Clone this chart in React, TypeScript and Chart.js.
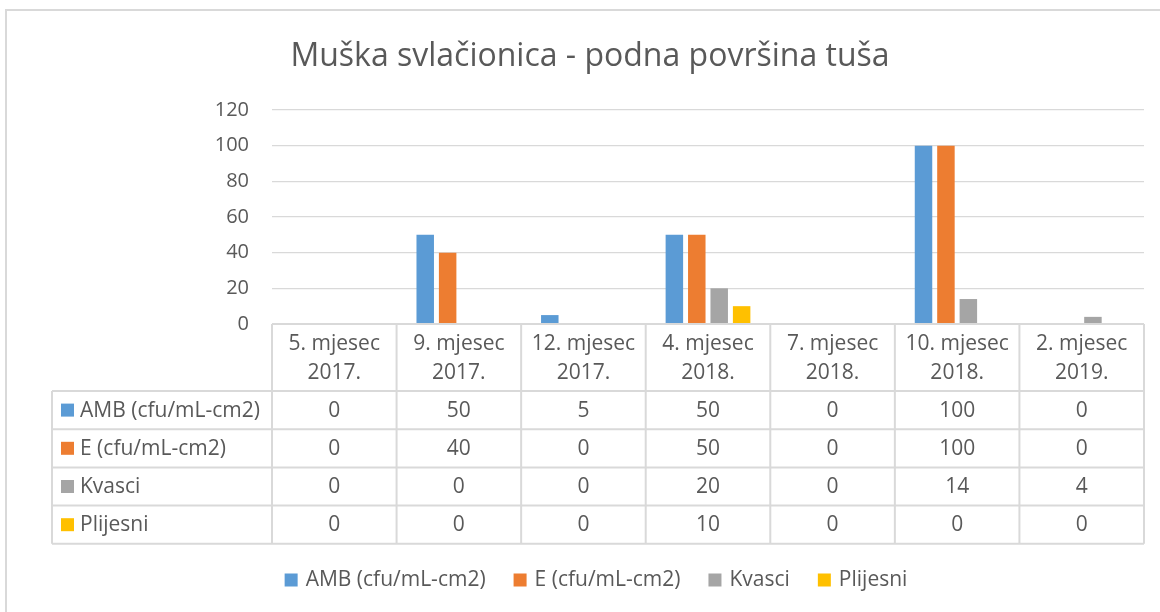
import React, { useEffect, useRef } from "react";
import { Chart, registerables } from "chart.js";

Chart.register(...registerables);

const TITLE = "Muška svlačionica - podna površina tuša";
const categoryLine1 = ["5. mjesec", "9. mjesec", "12. mjesec", "4. mjesec", "7. mjesec", "10. mjesec", "2. mjesec"];
const categoryLine2 = ["2017.", "2017.", "2017.", "2018.", "2018.", "2018.", "2019."];
const seriesNames = ["AMB (cfu/mL-cm2)", "E (cfu/mL-cm2)", "Kvasci", "Plijesni"];
const ambValues = [0, 50, 5, 50, 0, 100, 0];
const eValues = [0, 40, 0, 50, 0, 100, 0];
const kvasciValues = [0, 0, 0, 20, 0, 14, 4];
const plijesniValues = [0, 0, 0, 10, 0, 0, 0];
const seriesColors = ["#5B9BD5", "#ED7D31", "#A5A5A5", "#FFC000"];
const yMin = 0;
const yMax = 120;
const yStep = 20;

const FONT = '"Open Sans", "DejaVu Sans", sans-serif';
const TEXT = "#595959";
const LINE = "#D9D9D9";

const decorPlugin = {
  id: "decor",
  beforeDraw(chart: any) {
    const ctx = chart.ctx;
    ctx.save();
    ctx.fillStyle = "#ffffff";
    ctx.fillRect(0, 0, chart.width, chart.height);
    ctx.strokeStyle = LINE;
    ctx.lineWidth = 2;
    ctx.strokeRect(6, 10, chart.width + 40, chart.height + 40);
    ctx.restore();
  },
  afterDraw(chart: any) {
    const ctx = chart.ctx;
    const area = chart.chartArea;
    const n = chart.data.labels.length;
    const colW = (area.right - area.left) / n;
    const top = area.bottom;
    const headerH = 67;
    const rowH = 38.2;
    const labelLeft = 52;
    const datasets = chart.data.datasets;
    const rowsBottom = top + headerH + rowH * datasets.length;

    ctx.save();
    ctx.strokeStyle = LINE;
    ctx.lineWidth = 2;
    ctx.beginPath();
    ctx.moveTo(area.left, top);
    ctx.lineTo(area.right, top);
    for (let r = 0; r <= datasets.length; r++) {
      const y = top + headerH + r * rowH;
      ctx.moveTo(labelLeft, y);
      ctx.lineTo(area.right, y);
    }
    for (let i = 0; i <= n; i++) {
      const x = area.left + i * colW;
      ctx.moveTo(x, top);
      ctx.lineTo(x, rowsBottom);
    }
    ctx.moveTo(labelLeft, top + headerH);
    ctx.lineTo(labelLeft, rowsBottom);
    ctx.stroke();

    ctx.fillStyle = TEXT;
    ctx.font = `21px ${FONT}`;
    ctx.textAlign = "center";
    ctx.textBaseline = "middle";
    const xs = chart.scales.x;
    for (let i = 0; i < n; i++) {
      const cx = xs.getPixelForValue(i);
      const lab = chart.data.labels[i];
      ctx.fillText(lab[0], cx, top + 20);
      ctx.fillText(lab[1], cx, top + 49);
      datasets.forEach((ds: any, r: number) => {
        ctx.fillText(String(ds.data[i]), cx, top + headerH + r * rowH + rowH / 2 + 0.5);
      });
    }
    ctx.textAlign = "left";
    datasets.forEach((ds: any, r: number) => {
      const cy = top + headerH + r * rowH + rowH / 2;
      ctx.fillStyle = ds.backgroundColor;
      ctx.fillRect(61, cy - 6.5, 13, 13);
      ctx.fillStyle = TEXT;
      ctx.fillText(ds.label, 80, cy + 0.5);
    });

    // legend
    ctx.font = `21px ${FONT}`;
    const box = 13;
    const gapBox = 8;
    const gapItem = 28;
    const widths = datasets.map((ds: any) => ctx.measureText(ds.label).width);
    const total = widths.reduce((a: number, w: number) => a + box + gapBox + w, 0) + gapItem * (datasets.length - 1);
    let lx = 596 - total / 2;
    const ly = 580;
    datasets.forEach((ds: any, r: number) => {
      ctx.fillStyle = ds.backgroundColor;
      ctx.fillRect(lx, ly - box / 2, box, box);
      lx += box + gapBox;
      ctx.fillStyle = TEXT;
      ctx.fillText(ds.label, lx, ly + 0.5);
      lx += widths[r] + gapItem;
    });
    ctx.restore();
  },
};

export default function App() {
  const canvasRef = useRef<HTMLCanvasElement | null>(null);

  useEffect(() => {
    let chart: Chart | null = null;
    let cancelled = false;
    const build = () => {
      if (cancelled || !canvasRef.current) return;
      const values = [ambValues, eValues, kvasciValues, plijesniValues];
      chart = new Chart(canvasRef.current, {
        type: "bar",
        data: {
          labels: categoryLine1.map((l, i) => [l, categoryLine2[i]]),
          datasets: seriesNames.map((name, i) => ({
            label: name,
            data: values[i],
            backgroundColor: seriesColors[i],
            borderWidth: 0,
            categoryPercentage: 0.72,
            barPercentage: 0.78,
          })),
        },
        options: {
          responsive: false,
          animation: false,
          layout: { padding: { left: 36, right: 16, top: 0, bottom: 288 } },
          plugins: {
            legend: { display: false },
            tooltip: { enabled: false },
            title: {
              display: true,
              text: TITLE,
              color: TEXT,
              font: { family: FONT, size: 32, weight: "normal", lineHeight: 1.2 },
              padding: { top: 38, bottom: 33.6 },
            },
          },
          scales: {
            x: { display: false },
            y: {
              min: yMin,
              max: yMax,
              ticks: { stepSize: yStep, color: TEXT, font: { family: FONT, size: 20 }, padding: 23 },
              grid: { color: LINE, lineWidth: 1.3, drawTicks: false },
              border: { display: false },
              afterFit: (scale: any) => {
                scale.width = 236;
              },
            },
          },
        },
        plugins: [decorPlugin],
      });
    };
    const fontsApi: any = (document as any).fonts;
    if (fontsApi && fontsApi.load) {
      Promise.all([
        fontsApi.load(`21px "Open Sans"`),
        fontsApi.load(`32px "Open Sans"`),
      ]).then(build, build);
    } else {
      build();
    }
    return () => {
      cancelled = true;
      if (chart) chart.destroy();
    };
  }, []);

  return (
    <div style={{ position: "fixed", left: 0, top: 0, width: 1160, height: 612, background: "#fff" }}>
      <canvas ref={canvasRef} width={1160} height={612} style={{ display: "block" }} />
    </div>
  );
}
